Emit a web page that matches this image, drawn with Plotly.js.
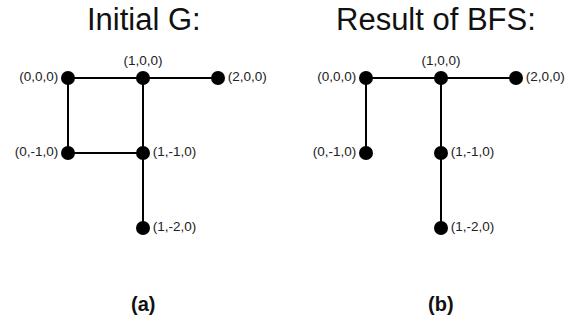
<!DOCTYPE html>
<html>
<head>
<meta charset="utf-8">
<script src="https://cdn.plot.ly/plotly-3.0.1.min.js"></script>
<style>html,body{margin:0;padding:0;background:#fff;}#chart{width:584px;height:321px;}</style>
</head>
<body>
<div id="chart"></div>
<script>
// Node data (shared by both graphs)
const nodeNames = ["(0,0,0)", "(1,0,0)", "(2,0,0)", "(0,-1,0)", "(1,-1,0)", "(1,-2,0)"];
const nodeX = [0, 1, 2, 0, 1, 1];
const nodeY = [0, 0, 0, -1, -1, -2];
const labelPos = ["middle left", "top center", "middle right", "middle left", "middle right", "middle right"];

// Edges as pairs of node indices
const edgesInitial = [[0, 1], [1, 2], [0, 3], [1, 4], [3, 4], [4, 5]];
const edgesBFS = [[0, 1], [1, 2], [0, 3], [1, 4], [4, 5]];

const panelTitles = ["Initial G:", "Result of BFS:"];
const panelCaptions = ["(a)", "(b)"];

function edgeTrace(edges, xa, ya) {
  const ex = [], ey = [];
  edges.forEach(([a, b]) => {
    ex.push(nodeX[a], nodeX[b], null);
    ey.push(nodeY[a], nodeY[b], null);
  });
  return {
    x: ex, y: ey, xaxis: xa, yaxis: ya, mode: "lines", type: "scatter",
    line: {color: "#000", width: 2}, hoverinfo: "skip", showlegend: false
  };
}
function nodeTrace(xa, ya) {
  return {
    x: nodeX, y: nodeY, xaxis: xa, yaxis: ya, mode: "markers+text", type: "scatter",
    text: nodeNames, textposition: labelPos,
    textfont: {family: "Liberation Sans, Arial, sans-serif", size: 13.5, color: "#222"},
    marker: {color: "#000", size: 14}, cliponaxis: false, showlegend: false
  };
}

const data = [
  edgeTrace(edgesInitial, "x", "y"), nodeTrace("x", "y"),
  edgeTrace(edgesBFS, "x2", "y2"), nodeTrace("x2", "y2")
];

const axOff = {showgrid: false, zeroline: false, showticklabels: false, showline: false, ticks: ""};
const titleFont = {family: "Liberation Sans, Arial, sans-serif", size: 31, color: "#111"};
const capFont = {family: "Liberation Sans, Arial, sans-serif", size: 20, color: "#111"};
const layout = {
  width: 584, height: 321,
  margin: {l: 0, r: 0, t: 0, b: 0},
  paper_bgcolor: "#fff", plot_bgcolor: "#fff",
  showlegend: false,
  xaxis: Object.assign({domain: [0, 0.5], range: [-0.9067, 2.9867]}, axOff),
  yaxis: Object.assign({domain: [0, 1], range: [-3.24, 1.04]}, axOff),
  xaxis2: Object.assign({domain: [0.5, 1], range: [-0.9867, 2.9067], anchor: "y2"}, axOff),
  yaxis2: Object.assign({domain: [0, 1], range: [-3.24, 1.04], anchor: "x2"}, axOff),
  annotations: [
    {text: panelTitles[0], xref: "paper", yref: "paper", x: 144/584, y: 1 - 19/321, xanchor: "center", yanchor: "middle", showarrow: false, font: titleFont},
    {text: panelTitles[1], xref: "paper", yref: "paper", x: 436/584, y: 1 - 19/321, xanchor: "center", yanchor: "middle", showarrow: false, font: titleFont},
    {text: "<b>" + panelCaptions[0] + "</b>", xref: "paper", yref: "paper", x: 143/584, y: 1 - 304/321, xanchor: "center", yanchor: "middle", showarrow: false, font: capFont},
    {text: "<b>" + panelCaptions[1] + "</b>", xref: "paper", yref: "paper", x: 441/584, y: 1 - 304/321, xanchor: "center", yanchor: "middle", showarrow: false, font: capFont}
  ]
};

Plotly.newPlot("chart", data, layout, {displayModeBar: false, staticPlot: true});
</script>
</body>
</html>
